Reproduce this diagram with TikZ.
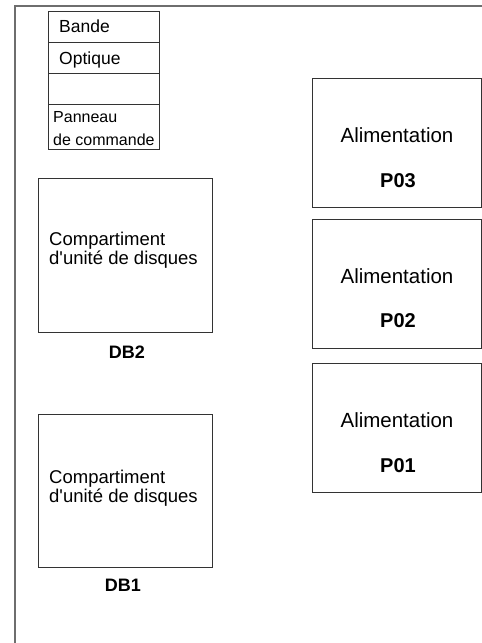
\documentclass[tikz,border=0pt]{standalone}
\usepackage{fontspec}
\setmainfont{Liberation Sans}
\begin{document}
\begin{tikzpicture}[x=1pt,y=-1pt,
  frame/.style={draw=black!57, line width=2pt},
  box/.style={draw=black!80, line width=0.9pt},
  lbl/.style={inner sep=0pt, anchor=base west, font=\fontsize{17.5}{20}\selectfont},
  alim/.style={inner sep=0pt, anchor=base, font=\fontsize{20.5}{22}\selectfont},
  pid/.style={inner sep=0pt, anchor=base, font=\fontsize{20}{22}\selectfont\bfseries},
  dbl/.style={inner sep=0pt, anchor=base west, align=left, font=\fontsize{18.5}{20}\selectfont},
  dbid/.style={inner sep=0pt, anchor=base, font=\fontsize{18}{22}\selectfont\bfseries}]
\useasboundingbox (0,0) rectangle (482,643);
% outer frame
\coordinate (fb) at (14.5,643);
\coordinate (fc) at (14.5,5.5);
\coordinate (fr) at (482,5.5);
\draw[frame] (fb) -- (fc) -- (fr);
% stack of small units
\draw[box] (48,11) rectangle (159,149);
\draw[box] (48,42) -- (159,42);
\draw[box] (48,73) -- (159,73);
\draw[box] (48,104) -- (159,104);
\node[lbl] (bande) at (59,32.5) {Bande};
\node[lbl] (optique) at (59,64) {Optique};
\node[lbl, font=\fontsize{16}{20}\selectfont] (panneau) at (53,122) {Panneau};
\node[lbl, font=\fontsize{16}{20}\selectfont] (commande) at (53,145) {de commande};
% power supplies
\node[box, minimum width=169pt, minimum height=129pt, anchor=north west] (p3) at (312,78) {};
\node[box, minimum width=169pt, minimum height=129pt, anchor=north west] (p2) at (312,219) {};
\node[box, minimum width=169pt, minimum height=129pt, anchor=north west] (p1) at (312,363) {};
\node[alim] (a3) at (397,142) {Alimentation};
\node[pid] (t3) at (398,187) {P03};
\node[alim] (a2) at (397,283) {Alimentation};
\node[pid] (t2) at (398,327) {P02};
\node[alim] (a1) at (397,427) {Alimentation};
\node[pid] (t1) at (398,472) {P01};
% disk bays
\node[box, minimum width=174pt, minimum height=154pt, anchor=north west] (db2) at (38,178) {};
\node[box, minimum width=174pt, minimum height=153pt, anchor=north west] (db1) at (38,414) {};
\node[dbl] (c2a) at (49,245) {Compartiment};
\node[dbl] (c2b) at (49,264) {d\textquotesingle unité de disques};
\node[dbl] (c1a) at (49,483) {Compartiment};
\node[dbl] (c1b) at (49,502) {d\textquotesingle unité de disques};
\node[dbid] (l2) at (127,358) {DB2};
\node[dbid] (l1) at (123,591) {DB1};
\end{tikzpicture}
\end{document}
